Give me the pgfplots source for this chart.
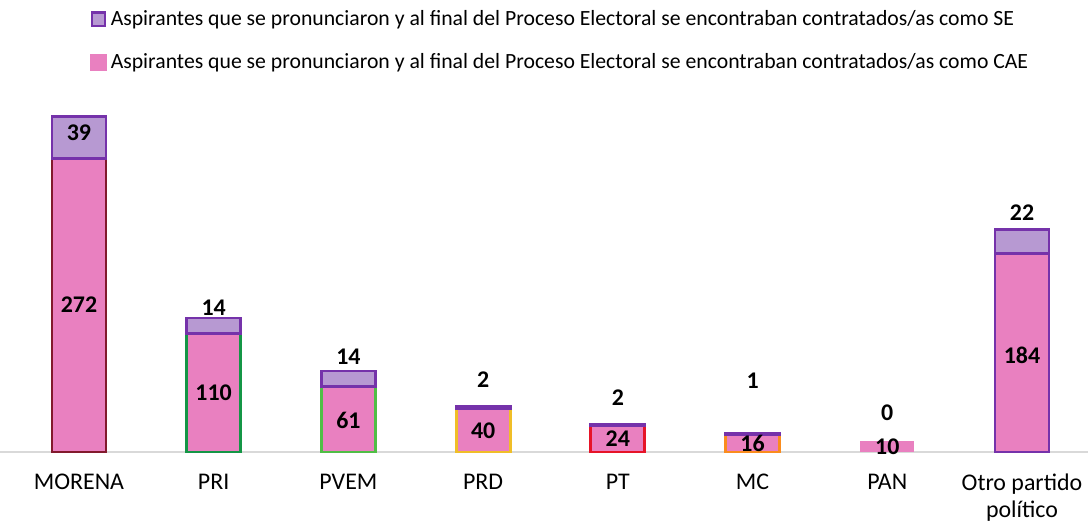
\documentclass[border=0pt]{standalone}
\usepackage{pgfplots}
\pgfplotsset{compat=1.18}
\usepackage{fontspec}
\setmainfont{Carlito}
\definecolor{cae}{RGB}{233,128,192}
\definecolor{se}{RGB}{183,153,210}
\definecolor{pur}{RGB}{117,50,170}
\definecolor{morena}{RGB}{130,25,45}
\definecolor{pri}{RGB}{20,150,70}
\definecolor{pvem}{RGB}{80,190,70}
\definecolor{prd}{RGB}{240,190,40}
\definecolor{pt}{RGB}{230,20,40}
\definecolor{mc}{RGB}{250,140,30}
\definecolor{basegray}{RGB}{217,217,217}
\begin{document}
\begin{tikzpicture}
\useasboundingbox (0,0) rectangle (544bp,261.5bp);
\pgfplotsset{common/.style={at={(0,35.5bp)}, anchor=south west, scale only axis,
  width=544bp, height=183.6bp, xmin=-0.586, xmax=7.49, ymin=0, ymax=340, clip=false}}
\begin{axis}[common,
  axis y line=none, axis x line*=bottom,
  x axis line style={-, draw=basegray, line width=0.8bp},
  xtick={0,...,7}, major tick length=0pt,
  xticklabels={MORENA,PRI,PVEM,PRD,PT,MC,PAN,{Otro partido\\político}},
  xticklabel style={align=center, font=\fontsize{12}{13.5}\selectfont, yshift=-7.5bp},
  legend style={draw=none, fill=none, at={(0.0827,1.215)}, anchor=north west,
    font=\fontsize{10.9}{12}\selectfont, row sep=8.5bp, inner sep=0pt,
    cells={anchor=west}},
  legend cell align=left,
  legend image code/.code={\draw[#1] (0bp,-3.4bp) rectangle (6.8bp,3.4bp);},
  every axis plot/.append style={ybar, bar width=27bp, bar shift=0pt, fill=cae, line width=1.4bp},
]
\addlegendimage{fill=se, draw=pur, line width=1.1bp}
\addlegendentry{Aspirantes que se pronunciaron y al final del Proceso Electoral se encontraban contratados/as como SE}
\addlegendimage{fill=cae, draw=cae}
\addlegendentry{Aspirantes que se pronunciaron y al final del Proceso Electoral se encontraban contratados/as como CAE}
\addplot[forget plot, draw=morena] coordinates {(0,272)};
\addplot[forget plot, draw=pri] coordinates {(1,110)};
\addplot[forget plot, draw=pvem] coordinates {(2,61)};
\addplot[forget plot, draw=prd] coordinates {(3,40)};
\addplot[forget plot, draw=pt] coordinates {(4,24)};
\addplot[forget plot, draw=mc] coordinates {(5,16)};
\addplot[forget plot, draw=none] coordinates {(6,10)};
\addplot[forget plot, draw=pur] coordinates {(7,184)};
\end{axis}
\begin{axis}[common, hide axis, ybar stacked, bar width=27bp]
\addplot[draw=none, fill=none] coordinates {(0,272) (1,110) (2,61) (3,40) (4,24) (5,16) (7,184)};
\addplot[fill=se, draw=pur, line width=1.4bp] coordinates {(0,39) (1,14) (2,14) (3,2) (4,2) (5,1) (7,22)};
\end{axis}
\begin{axis}[common, hide axis]
\addplot[draw=none, mark=none, nodes near coords, point meta=explicit symbolic,
  every node near coord/.append style={anchor=center, font=\fontsize{12}{12}\selectfont\bfseries, inner sep=0pt}]
  table[meta=lab] {
x y lab
0 136 272
1 54.6 110
2 29.6 61
3 19.4 40
4 12 24
5 8.3 16
6 4.6 10
7 89.8 184
0 295.4 39
1 133.3 14
2 88 14
3 66.7 2
4 50 2
5 65.7 1
6 36.1 0
7 221.3 22
};
\end{axis}
\end{tikzpicture}
\end{document}
